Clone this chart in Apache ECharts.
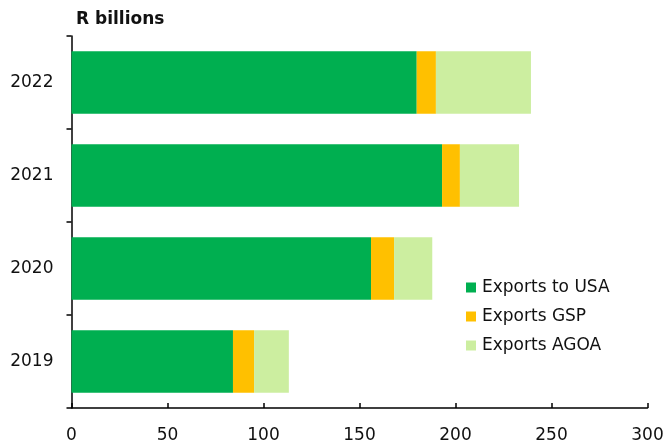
<!DOCTYPE html>
<html>
<head>
<meta charset="utf-8">
<script src="https://cdn.jsdelivr.net/npm/echarts@6/dist/echarts.min.js"></script>
<style>
  html, body { margin: 0; padding: 0; background: #fff; }
  #chart { width: 668px; height: 445px; }
</style>
</head>
<body>
<div id="chart"></div>
<script>
// values (R billions)
const years = ['2019', '2020', '2021', '2022'];
const exportsUSA = [84.1, 156, 193, 179.8];
const exportsGSP = [11, 12, 9.3, 10];
const exportsAGOA = [18.1, 19.9, 30.8, 49.5];
const xTicks = [0, 300, 50]; // min, max, interval

const FONT = '"DejaVu Sans", sans-serif';
const chart = echarts.init(document.getElementById('chart'), null, { renderer: 'canvas' });

const seriesDefs = [
  { name: 'Exports to USA', data: exportsUSA, color: '#00AF50' },
  { name: 'Exports GSP', data: exportsGSP, color: '#FFC000' },
  { name: 'Exports AGOA', data: exportsAGOA, color: '#CCEEA0' },
];

chart.setOption({
  animation: false,
  textStyle: { fontFamily: FONT },
  title: {
    text: 'R billions',
    left: 71,
    top: 6,
    textStyle: { fontFamily: FONT, fontSize: 17, fontWeight: 'bold', color: '#111' },
  },
  grid: { left: 71.5, right: 20.5, top: 36, bottom: 37, containLabel: false },
  legend: {
    orient: 'vertical',
    left: 461,
    top: 274,
    itemWidth: 10,
    itemHeight: 10,
    itemGap: 12,
    icon: 'rect',
    textStyle: { fontFamily: FONT, fontSize: 17, color: '#111', padding: [0, 0, 0, 1] },
    data: seriesDefs.map(s => s.name),
  },
  xAxis: {
    type: 'value',
    min: xTicks[0],
    max: xTicks[1],
    interval: xTicks[2],
    axisLine: { show: true, lineStyle: { color: '#000', width: 1.5 } },
    axisTick: { show: true, inside: true, length: 5, lineStyle: { color: '#000', width: 1.5 } },
    axisLabel: { margin: 19, fontSize: 17, color: '#111', fontFamily: FONT },
    splitLine: { show: false },
  },
  yAxis: {
    type: 'category',
    data: years,
    axisLine: { show: true, lineStyle: { color: '#000', width: 1.5 } },
    axisTick: { show: true, length: 5, lineStyle: { color: '#000', width: 1.5 } },
    axisLabel: { margin: 18, fontSize: 17, color: '#111', fontFamily: FONT },
  },
  series: seriesDefs.map(s => ({
    name: s.name,
    type: 'bar',
    stack: 'total',
    data: s.data,
    barWidth: '67%',
    itemStyle: { color: s.color },
    emphasis: { disabled: true },
  })),
});
</script>
</body>
</html>
